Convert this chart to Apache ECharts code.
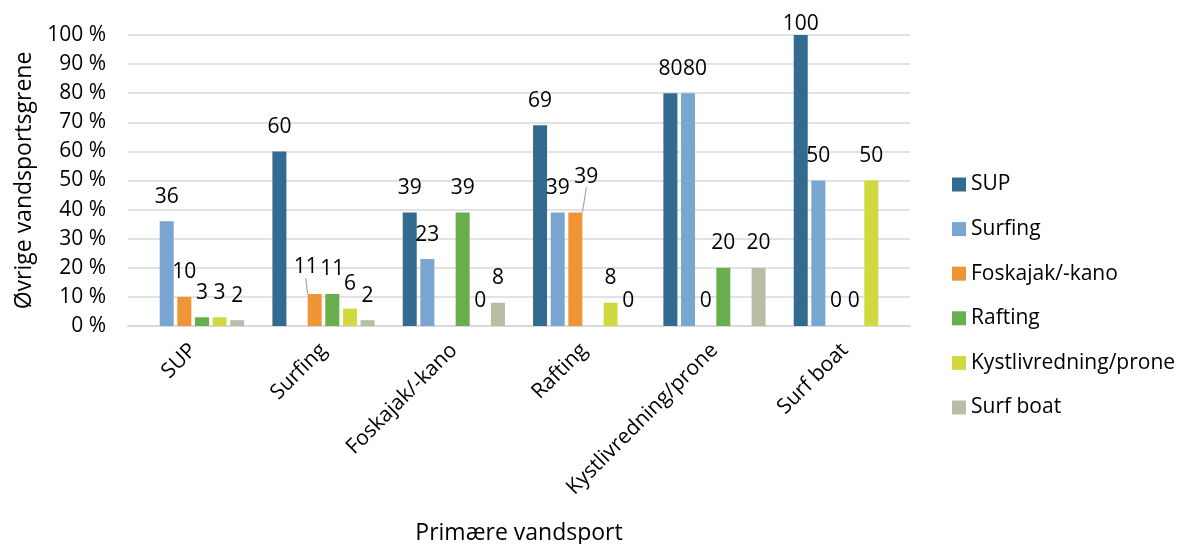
<!DOCTYPE html>
<html>
<head>
<meta charset="utf-8" />
<title>Primære vandsport</title>
<script src="https://cdn.jsdelivr.net/npm/echarts@6/dist/echarts.min.js"></script>
<style>
  html, body { margin: 0; padding: 0; background: #fff; }
</style>
</head>
<body>
<div id="main" style="width: 1178px;height:544px;"></div>
<script type="text/javascript">
// kategorier (primære vandsport)
var categories = ['SUP', 'Surfing', 'Foskajak/-kano', 'Rafting', 'Kystlivredning/prone', 'Surf boat'];

// øvrige vandsportsgrene, procent (null = ingen søjle)
var sup       = [null, 60, 39, 69, 80, 100];
var surfing   = [36, null, 23, 39, 80, 50];
var foskajak  = [10, 11, null, 39, 0, 0];
var rafting   = [3, 11, 39, null, 20, 0];
var kyst      = [3, 6, 0, 8, null, 50];
var surfboat  = [2, 2, 8, 0, 20, null];

var seriesNames = ['SUP', 'Surfing', 'Foskajak/-kano', 'Rafting', 'Kystlivredning/prone', 'Surf boat'];
var seriesData = [sup, surfing, foskajak, rafting, kyst, surfboat];
var colors = ['#336a90', '#78a6d0', '#ef9535', '#69ae4c', '#d2d840', '#b9bda5'];

// etiketter der er flyttet for at undgå overlap: "serie,kategori" -> [dx, dy, streg]
var labelMoves = {
  '2,1': [-9, -2, true],
  '2,3': [11, -11, true],
  '1,4': [7, 0, false]
};

var font = 'Open Sans';
var myChart = echarts.init(document.getElementById('main'));

var series = seriesNames.map(function (name, i) {
  return {
    name: name,
    type: 'bar',
    data: seriesData[i].map(function (v, j) {
      var m = labelMoves[i + ',' + j];
      if (v === 100) return { value: v, label: { distance: 0 } }; // etiket ved loftet
      if (m && m[2]) return { value: v, labelLine: { show: true } };
      return v;
    }),
    barWidth: 14,
    barGap: '26%',
    itemStyle: { color: colors[i] },
    label: {
      show: true,
      position: 'top',
      distance: 14,
      color: '#000',
      fontFamily: font,
      fontSize: 21
    },
    labelLine: {
      show: false,
      lineStyle: { color: '#a6a6a6', width: 1.2 }
    },
    labelLayout: function (params) {
      var m = labelMoves[i + ',' + params.dataIndex];
      if (!m) return {};
      return { dx: m[0], dy: m[1] };
    }
  };
});

var option = {
  animation: false,
  color: colors,
  grid: { left: 128, right: 268, top: 35, bottom: 218, outerBoundsMode: 'none' },
  legend: {
    orient: 'vertical',
    left: 947,
    top: 169,
    icon: 'rect',
    itemWidth: 14,
    itemHeight: 14,
    itemGap: 23.6,
    textStyle: { color: '#000', fontFamily: font, fontSize: 21 },
    data: seriesNames
  },
  xAxis: {
    type: 'category',
    data: categories,
    name: 'Primære vandsport',
    nameLocation: 'middle',
    nameGap: 196,
    nameTextStyle: { color: '#000', fontFamily: font, fontSize: 23 },
    axisLine: { lineStyle: { color: '#d9d9d9', width: 2 } },
    axisTick: { show: false },
    axisLabel: {
      rotate: 45,
      margin: 21,
      color: '#000',
      fontFamily: font,
      fontSize: 21,
      interval: 0
    }
  },
  yAxis: {
    type: 'value',
    min: 0,
    max: 100,
    interval: 10,
    name: 'Øvrige vandsportsgrene',
    nameLocation: 'middle',
    nameGap: 85,
    nameTextStyle: { color: '#000', fontFamily: font, fontSize: 23 },
    axisLine: { show: false },
    axisTick: { show: false },
    axisLabel: {
      formatter: '{value} %',
      margin: 22,
      color: '#000',
      fontFamily: font,
      fontSize: 21
    },
    splitLine: { lineStyle: { color: '#d9d9d9', width: 1.5 } }
  },
  series: series
};

myChart.setOption(option);
</script>
</body>
</html>
